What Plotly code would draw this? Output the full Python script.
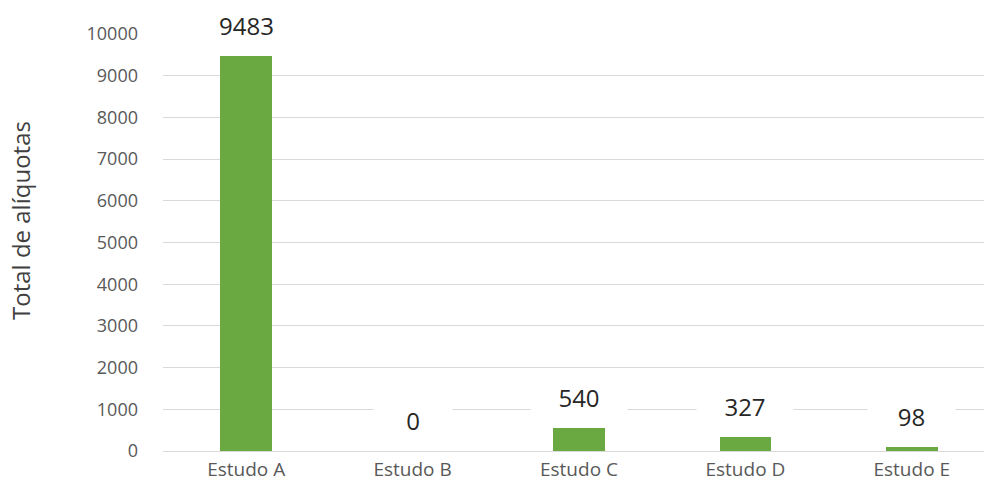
import plotly.graph_objects as go

# Data
estudos = ["Estudo A", "Estudo B", "Estudo C", "Estudo D", "Estudo E"]
aliquotas = [9483, 0, 540, 327, 98]
y_ticks = list(range(0, 10001, 1000))

bar_color = "#6aa842"
font_family = "Open Sans, Liberation Sans, sans-serif"

fig = go.Figure(
    go.Bar(
        x=list(range(len(estudos))),
        y=aliquotas,
        width=0.31,
        marker=dict(color=bar_color, line=dict(width=0)),
        hoverinfo="skip",
    )
)

# Value labels on white boxes above each bar
for i, v in enumerate(aliquotas):
    txt = str(v)
    fig.add_annotation(
        x=i, y=v, xref="x", yref="y",
        text=txt,
        showarrow=False,
        yanchor="middle",
        yshift=31,
        font=dict(family=font_family, size=24, color="#262626"),
        bgcolor="white",
        width=67 + len(txt) * 9,
        height=30,
        align="center",
    )

# Y-axis title, placed as a rotated annotation left of the tick labels
fig.add_annotation(
    x=-0.173, y=0.554, xref="paper", yref="paper",
    text="Total de alíquotas",
    textangle=-90,
    showarrow=False,
    xanchor="center", yanchor="middle",
    font=dict(family=font_family, size=24, color="#404040"),
)

fig.update_layout(
    width=984,
    height=490,
    margin=dict(l=163, r=0, t=34, b=39),
    paper_bgcolor="white",
    plot_bgcolor="white",
    showlegend=False,
    bargap=0,
    xaxis=dict(
        tickmode="array",
        tickvals=list(range(len(estudos))),
        ticktext=estudos,
        range=[-0.5, 4.434],
        showgrid=False,
        zeroline=False,
        showline=False,
        ticks="",
        ticklabelstandoff=5,
        tickfont=dict(family=font_family, size=19, color="#595959"),
    ),
    yaxis=dict(
        range=[0, 10000],
        tickmode="array",
        tickvals=y_ticks,
        ticktext=[str(t) for t in y_ticks],
        showgrid=True,
        gridcolor="#d9d9d9",
        gridwidth=1,
        zeroline=True,
        zerolinecolor="#d9d9d9",
        zerolinewidth=1,
        showline=False,
        ticks="",
        ticklabelstandoff=24,
        tickfont=dict(family=font_family, size=18, color="#595959"),
    ),
)

fig.write_html("out.html")
